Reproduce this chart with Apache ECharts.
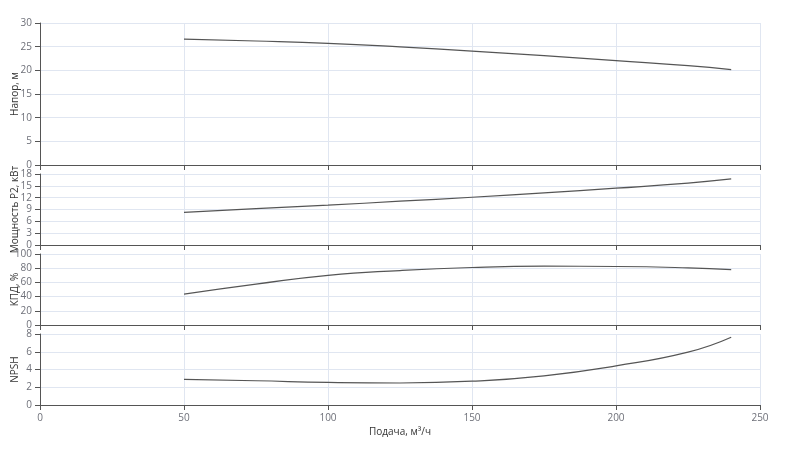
<!DOCTYPE html>
<html>
<head>
<meta charset="utf-8">
<script src="https://cdn.jsdelivr.net/npm/echarts@6/dist/echarts.min.js"></script>
<style>
html,body{margin:0;padding:0;background:#fff;}
#chart{width:800px;height:472px;}
</style>
</head>
<body>
<div id="chart"></div>
<script>
const flow = [50, 75, 100, 125, 150, 175, 200, 225, 240];
const head = [26.6, 26.2, 25.7, 24.95, 24.05, 23.1, 22.05, 21.0, 20.15];
const power = [8.25, 9.2, 10.1, 11.1, 12.1, 13.2, 14.4, 15.7, 16.75];
const efficiency = [43.5, 57.5, 70, 76.7, 81, 82.8, 82.4, 80.5, 78.1];
const npsh = [2.88, 2.73, 2.55, 2.48, 2.68, 3.29, 4.41, 5.95, 7.63];

const yNames = ['Напор, м', 'Мощность Р2, кВт', 'КПД, %', 'NPSH'];
const yMax = [30, 18, 100, 8];
const yInterval = [5, 3, 20, 2];
const seriesData = [head, power, efficiency, npsh];
const xName = 'Подача, м³/ч';

const grids = [
  {left: 40, right: 40, top: 23, height: 142},
  {left: 40, right: 40, top: 174, height: 71},
  {left: 40, right: 40, top: 254, height: 71},
  {left: 40, right: 40, top: 334, height: 71}
].map(g => Object.assign(g, {containLabel: false, outerBoundsMode: 'none'}));

const labelColor = '#6E7079';
const xAxes = grids.map((g, i) => ({
  type: 'value', gridIndex: i, min: 0, max: 250, interval: 50,
  axisLine: {show: true, lineStyle: {color: '#555'}},
  axisTick: {show: true},
  axisLabel: {show: i === 3, fontSize: 10, color: labelColor},
  splitLine: {show: true, lineStyle: {color: '#E0E6F1'}},
  name: i === 3 ? xName : '',
  nameLocation: 'middle', nameGap: 22, nameMoveOverlap: false,
  nameTextStyle: {fontSize: 10, color: '#333'}
}));
const yAxes = grids.map((g, i) => ({
  type: 'value', gridIndex: i, min: 0, max: yMax[i], interval: yInterval[i],
  axisLine: {show: true, lineStyle: {color: '#555'}},
  axisTick: {show: true},
  axisLabel: {fontSize: 10, color: labelColor},
  splitLine: {show: true, lineStyle: {color: '#E0E6F1'}},
  name: yNames[i], nameLocation: 'middle', nameGap: 20, nameMoveOverlap: false,
  nameTextStyle: {fontSize: 10, color: '#333'}
}));
const series = seriesData.map((d, i) => ({
  type: 'line', xAxisIndex: i, yAxisIndex: i,
  data: flow.map((q, k) => [q, d[k]]),
  smooth: true, showSymbol: false,
  lineStyle: {color: '#555', width: 1.2},
  itemStyle: {color: '#555'}
}));

const chart = echarts.init(document.getElementById('chart'), null, {renderer: 'canvas'});
chart.setOption({
  animation: false,
  textStyle: {fontFamily: 'Open Sans, sans-serif'},
  grid: grids, xAxis: xAxes, yAxis: yAxes, series: series
});
</script>
</body>
</html>
